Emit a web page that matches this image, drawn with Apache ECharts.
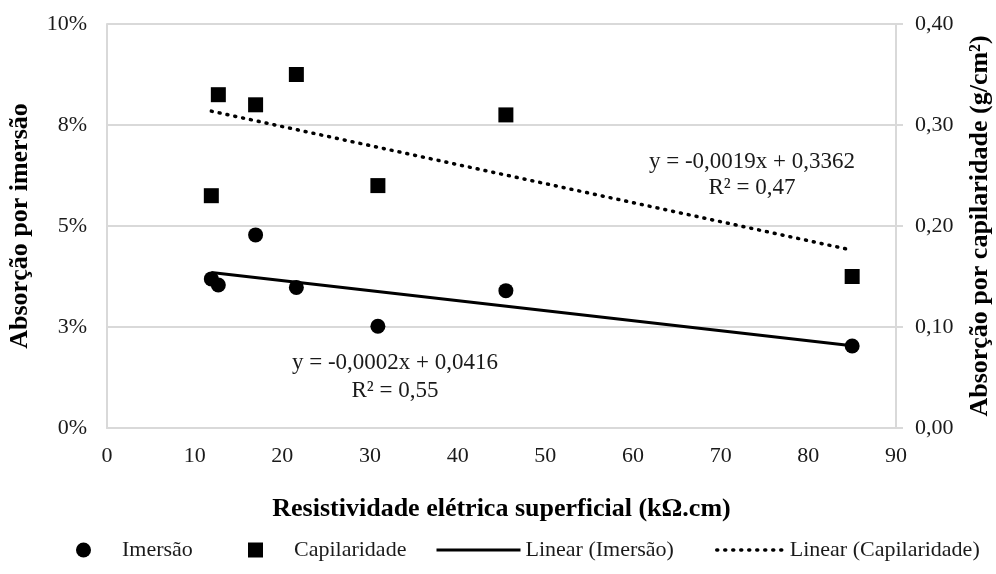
<!DOCTYPE html>
<html>
<head>
<meta charset="utf-8">
<script src="https://cdn.jsdelivr.net/npm/echarts@6/dist/echarts.min.js"></script>
<style>
  html, body { margin: 0; padding: 0; background: #fff; }
  #chart { width: 996px; height: 574px; }
</style>
</head>
<body>
<div id="chart"></div>
<script>
// resistividade (kΩ.cm)
const resistividade = [11.9, 12.7, 16.95, 21.6, 30.9, 45.5, 85.0]
// absorção por imersão (fração)
const imersao = [0.0369, 0.0354, 0.0478, 0.0348, 0.0252, 0.0340, 0.0203]
// absorção por capilaridade (g/cm²)
const capilaridade = [0.23, 0.33, 0.32, 0.35, 0.24, 0.31, 0.15]
const leftTickLabels = ['0%', '3%', '5%', '8%', '10%']
const rightTickLabels = ['0,00', '0,10', '0,20', '0,30', '0,40']
const eqImersao = ['y = -0,0002x + 0,0416', 'R² = 0,55']
const eqCapilaridade = ['y = -0,0019x + 0,3362', 'R² = 0,47']

const FONT = '"Liberation Serif", "Times New Roman", serif'
const TXT = '#1a1a1a'
const SOLID = { color: '#000', width: 3 }
const DOTTED = { color: '#000', width: 3.5, type: [1, 7], cap: 'round' }

// reta de mínimos quadrados, desenhada entre o menor e o maior x
function trend (xs, ys) {
  const n = xs.length
  const mx = xs.reduce((a, b) => a + b, 0) / n
  const my = ys.reduce((a, b) => a + b, 0) / n
  let sxy = 0
  let sxx = 0
  xs.forEach((x, i) => {
    sxy += (x - mx) * (ys[i] - my)
    sxx += (x - mx) * (x - mx)
  })
  const b = sxy / sxx
  const a = my - b * mx
  const x0 = Math.min(...xs)
  const x1 = Math.max(...xs)
  return [[x0, a + b * x0], [x1, a + b * x1]]
}

// uma legenda por item, para posicionar cada um como no original
function legendItem (name, left, w, icon, line) {
  const item = { name: name }
  if (icon) item.icon = icon
  const lg = {
    data: [item],
    left: left,
    top: 534,
    itemWidth: w,
    itemHeight: 15,
    textStyle: {
      fontFamily: FONT,
      fontSize: 22,
      color: TXT,
      padding: icon ? [0, 0, 0, 26] : [0, 0, 0, 0]
    }
  }
  if (line) lg.lineStyle = line
  return lg
}

const chart = echarts.init(document.getElementById('chart'))

const titleStyle = { fontFamily: FONT, fontSize: 26, fontWeight: 'bold', color: '#000' }
const tickStyle = { fontFamily: FONT, fontSize: 22, color: TXT }

const option = {
  animation: false,
  textStyle: { fontFamily: FONT },
  grid: { left: 107, right: 100, top: 24, bottom: 146, outerBoundsMode: 'none' },
  xAxis: {
    type: 'value',
    min: 0,
    max: 90,
    interval: 10,
    name: 'Resistividade elétrica superficial (kΩ.cm)',
    nameLocation: 'middle',
    nameGap: 68,
    nameTextStyle: titleStyle,
    axisLine: { lineStyle: { color: '#d9d9d9', width: 2 } },
    axisTick: { show: false },
    splitLine: { show: false },
    axisLabel: Object.assign({ margin: 17 }, tickStyle)
  },
  yAxis: [
    {
      type: 'value',
      min: 0,
      max: 0.1,
      interval: 0.025,
      name: 'Absorção por imersão',
      nameLocation: 'middle',
      nameGap: 74,
      nameTextStyle: titleStyle,
      axisLine: { show: true, lineStyle: { color: '#d9d9d9', width: 2 } },
      axisTick: { show: false },
      splitLine: { lineStyle: { color: '#d9d9d9', width: 2 } },
      axisLabel: Object.assign({
        margin: 20,
        formatter: v => leftTickLabels[Math.round(v / 0.025)]
      }, tickStyle)
    },
    {
      type: 'value',
      min: 0,
      max: 0.4,
      interval: 0.1,
      name: 'Absorção por capilaridade (g/cm²)',
      nameLocation: 'middle',
      nameGap: 71,
      nameRotate: 90,
      nameTextStyle: titleStyle,
      axisLine: { show: true, lineStyle: { color: '#d9d9d9', width: 2 } },
      axisTick: { show: true, length: 7, lineStyle: { color: '#d9d9d9', width: 2 } },
      splitLine: { show: false },
      axisLabel: Object.assign({
        margin: 19,
        formatter: v => rightTickLabels[Math.round(v / 0.1)]
      }, tickStyle)
    }
  ],
  legend: [
    legendItem('Imersão', 71, 15, 'circle'),
    legendItem('Capilaridade', 243, 15, 'rect'),
    legendItem('Linear (Imersão)', 430, 84, null, SOLID),
    legendItem('Linear (Capilaridade)', 710, 68, null, DOTTED)
  ],
  series: [
    {
      name: 'Imersão',
      type: 'scatter',
      yAxisIndex: 0,
      symbol: 'circle',
      symbolSize: 15,
      itemStyle: { color: '#000', opacity: 1 },
      data: resistividade.map((x, i) => [x, imersao[i]]),
      z: 3
    },
    {
      name: 'Capilaridade',
      type: 'scatter',
      yAxisIndex: 1,
      symbol: 'rect',
      symbolSize: 15,
      itemStyle: { color: '#000', opacity: 1 },
      data: resistividade.map((x, i) => [x, capilaridade[i]]),
      z: 3
    },
    {
      name: 'Linear (Imersão)',
      type: 'line',
      yAxisIndex: 0,
      symbol: 'none',
      legendIcon: 'path://M0,0L1,0',
      lineStyle: SOLID,
      itemStyle: { color: '#000', opacity: 0 },
      data: trend(resistividade, imersao),
      z: 2
    },
    {
      name: 'Linear (Capilaridade)',
      type: 'line',
      yAxisIndex: 1,
      symbol: 'none',
      legendIcon: 'path://M0,0L1,0',
      lineStyle: DOTTED,
      itemStyle: { color: '#000', opacity: 0 },
      data: trend(resistividade, capilaridade),
      z: 2
    }
  ],
  graphic: [
    {
      type: 'text',
      style: {
        text: eqCapilaridade.join('\n'),
        x: 752,
        y: 175,
        align: 'center',
        verticalAlign: 'middle',
        lineHeight: 26,
        font: '23px ' + FONT,
        fill: TXT
      }
    },
    {
      type: 'text',
      style: {
        text: eqImersao.join('\n'),
        x: 395,
        y: 377,
        align: 'center',
        verticalAlign: 'middle',
        lineHeight: 28,
        font: '23px ' + FONT,
        fill: TXT
      }
    }
  ]
}

chart.setOption(option)
</script>
</body>
</html>
